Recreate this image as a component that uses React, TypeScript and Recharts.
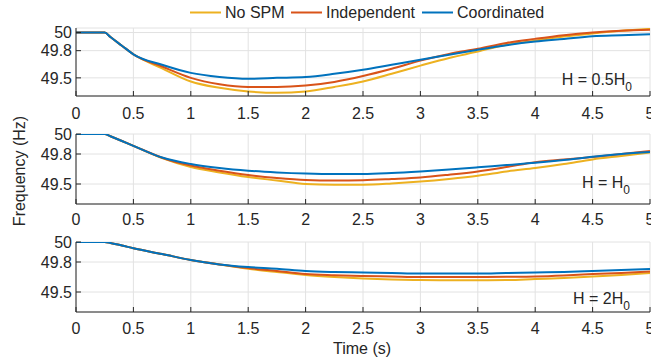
import { CartesianGrid, Line, LineChart, XAxis, YAxis } from 'recharts'

// time axis (s)
const TIME = [0, 0.25, 0.3, 0.4, 0.5, 0.75, 1, 1.25, 1.5, 1.75, 2, 2.25, 2.5, 2.75, 3, 3.25, 3.5, 3.75, 4, 4.25, 4.5, 4.75, 5]
const X_TICKS = [0, 0.5, 1, 1.5, 2, 2.5, 3, 3.5, 4, 4.5, 5]
const Y_TICKS = [49.5, 49.8, 50]

// H = 0.5H0
const P1_NO_SPM = [50, 50, 49.95, 49.855, 49.76, 49.605, 49.46, 49.39, 49.35, 49.335, 49.35, 49.4, 49.46, 49.545, 49.635, 49.72, 49.79, 49.865, 49.91, 49.955, 49.99, 50.02, 50.04]
const P1_INDEPENDENT = [50, 50, 49.95, 49.855, 49.76, 49.625, 49.5, 49.43, 49.4, 49.4, 49.415, 49.455, 49.52, 49.6, 49.69, 49.764, 49.82, 49.885, 49.93, 49.97, 50.0, 50.02, 50.03]
const P1_COORDINATED = [50, 50, 49.95, 49.855, 49.76, 49.645, 49.555, 49.51, 49.49, 49.5, 49.51, 49.545, 49.59, 49.645, 49.7, 49.756, 49.81, 49.86, 49.9, 49.93, 49.96, 49.97, 49.98]

// H = H0
const P2_NO_SPM = [50, 50, 49.977, 49.93, 49.882, 49.76, 49.67, 49.616, 49.57, 49.535, 49.5, 49.493, 49.493, 49.505, 49.524, 49.55, 49.582, 49.625, 49.66, 49.7, 49.746, 49.78, 49.814]
const P2_INDEPENDENT = [50, 50, 49.977, 49.93, 49.882, 49.763, 49.685, 49.633, 49.59, 49.56, 49.54, 49.535, 49.538, 49.55, 49.565, 49.593, 49.626, 49.67, 49.718, 49.745, 49.77, 49.8, 49.83]
const P2_COORDINATED = [50, 50, 49.977, 49.93, 49.882, 49.765, 49.7, 49.66, 49.633, 49.616, 49.605, 49.6, 49.6, 49.61, 49.626, 49.645, 49.667, 49.69, 49.712, 49.74, 49.773, 49.8, 49.82]

// H = 2H0
const P3_NO_SPM = [50, 50, 49.99, 49.965, 49.937, 49.88, 49.82, 49.776, 49.733, 49.7, 49.67, 49.65, 49.635, 49.625, 49.62, 49.618, 49.618, 49.62, 49.63, 49.64, 49.655, 49.67, 49.69]
const P3_INDEPENDENT = [50, 50, 49.99, 49.965, 49.937, 49.88, 49.82, 49.776, 49.74, 49.71, 49.68, 49.668, 49.66, 49.655, 49.65, 49.65, 49.65, 49.652, 49.655, 49.665, 49.68, 49.69, 49.705]
const P3_COORDINATED = [50, 50, 49.99, 49.965, 49.937, 49.88, 49.82, 49.776, 49.75, 49.733, 49.71, 49.7, 49.695, 49.69, 49.685, 49.685, 49.685, 49.69, 49.695, 49.7, 49.71, 49.72, 49.73]

const COLORS = { noSpm: '#EDB120', independent: '#D95319', coordinated: '#0072BD' }
const AXIS = '#262626'
const GRID = '#e2e2e2'
const FONT = '"Liberation Sans", Arial, Helvetica, sans-serif'
const FS = 16
const PAD = 12

interface PanelProps {
  top: number
  height: number
  yDomain: [number, number]
  noSpm: number[]
  independent: number[]
  coordinated: number[]
  tickMargin: number
}

function Panel({ top, height, yDomain, noSpm, independent, coordinated, tickMargin }: PanelProps) {
  const data = TIME.map((t, i) => ({
    t,
    noSpm: noSpm[i],
    independent: independent[i],
    coordinated: coordinated[i],
  }))
  const tick = { fontSize: FS, fill: AXIS, fontFamily: FONT }
  const blank = () => ''
  return (
    <div style={{ position: 'absolute', left: 0, top: top - PAD }}>
      <LineChart width={651} height={height + PAD + 30} data={data} margin={{ top: PAD, right: 1, bottom: 0, left: 0 }}>
        <CartesianGrid xAxisId="b" yAxisId="l" stroke={GRID} />
        <XAxis
          xAxisId="b"
          dataKey="t"
          type="number"
          domain={[0, 5]}
          ticks={X_TICKS}
          interval={0}
          height={30}
          stroke={AXIS}
          tickSize={-5}
          tickMargin={tickMargin}
          tick={tick}
        />
        <XAxis
          xAxisId="top"
          orientation="top"
          dataKey="t"
          type="number"
          domain={[0, 5]}
          ticks={X_TICKS}
          interval={0}
          height={0}
          stroke={AXIS}
          tickSize={-5}
          tickFormatter={blank}
        />
        <YAxis
          yAxisId="l"
          type="number"
          domain={yDomain}
          ticks={Y_TICKS}
          interval={0}
          allowDataOverflow
          width={76}
          stroke={AXIS}
          tickSize={-5}
          tickMargin={9}
          tick={tick}
        />
        <YAxis
          yAxisId="r"
          orientation="right"
          type="number"
          domain={yDomain}
          ticks={Y_TICKS}
          interval={0}
          allowDataOverflow
          width={0}
          stroke={AXIS}
          tickSize={-5}
          tickFormatter={blank}
        />
        <Line xAxisId="b" yAxisId="l" type="monotone" dataKey="noSpm" stroke={COLORS.noSpm} strokeWidth={2} dot={false} isAnimationActive={false} />
        <Line xAxisId="b" yAxisId="l" type="monotone" dataKey="independent" stroke={COLORS.independent} strokeWidth={2} dot={false} isAnimationActive={false} />
        <Line xAxisId="b" yAxisId="l" type="monotone" dataKey="coordinated" stroke={COLORS.coordinated} strokeWidth={2} dot={false} isAnimationActive={false} />
      </LineChart>
    </div>
  )
}

const LEGEND = [
  { name: 'No SPM', color: COLORS.noSpm, x1: 190, x2: 221, tx: 225 },
  { name: 'Independent', color: COLORS.independent, x1: 291, x2: 322, tx: 326 },
  { name: 'Coordinated', color: COLORS.coordinated, x1: 422, x2: 453, tx: 457 },
]

export default function App() {
  return (
    <div style={{ position: 'absolute', left: 0, top: 0, width: 651, height: 361, background: '#fff', fontFamily: FONT }}>
      <Panel top={28} height={68} yDomain={[49.3, 50.05]} noSpm={P1_NO_SPM} independent={P1_INDEPENDENT} coordinated={P1_COORDINATED} tickMargin={17} />
      <Panel top={134} height={70} yDomain={[49.3, 50]} noSpm={P2_NO_SPM} independent={P2_INDEPENDENT} coordinated={P2_COORDINATED} tickMargin={15} />
      <Panel top={242} height={70} yDomain={[49.3, 50]} noSpm={P3_NO_SPM} independent={P3_INDEPENDENT} coordinated={P3_COORDINATED} tickMargin={16} />
      <svg width={651} height={361} style={{ position: 'absolute', left: 0, top: 0, pointerEvents: 'none' }}>
        <g fontFamily={FONT} fontSize={FS} fill={AXIS}>
          {LEGEND.map((l) => (
            <g key={l.name}>
              <line x1={l.x1} x2={l.x2} y1={12.5} y2={12.5} stroke={l.color} strokeWidth={2} />
              <text x={l.tx} y={18}>{l.name}</text>
            </g>
          ))}
          <text x={25} y={171} textAnchor="middle" transform="rotate(-90, 25, 171)">Frequency (Hz)</text>
          <text x={362} y={354} textAnchor="middle">Time (s)</text>
          <text x={632} y={85} textAnchor="end">
            H = 0.5H<tspan fontSize={12} dy={6}>0</tspan>
          </text>
          <text x={630} y={188} textAnchor="end">
            H = H<tspan fontSize={12} dy={6}>0</tspan>
          </text>
          <text x={630} y={304} textAnchor="end">
            H = 2H<tspan fontSize={12} dy={6}>0</tspan>
          </text>
        </g>
      </svg>
    </div>
  )
}
